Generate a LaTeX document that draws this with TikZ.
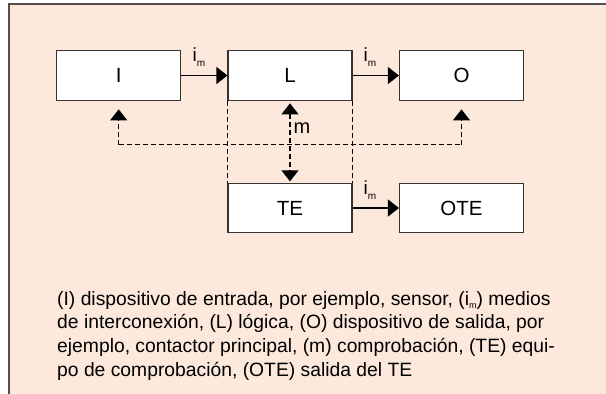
\documentclass[tikz,border=0pt]{standalone}
\usepackage{fontspec}
\setmainfont{Liberation Sans}
\usetikzlibrary{arrows.meta,calc}
\definecolor{peach}{RGB}{253,233,220}
\definecolor{framegray}{RGB}{80,80,80}
\definecolor{boxline}{RGB}{50,50,50}
\newcommand{\imlabel}{\fontsize{19}{19}\selectfont i\raisebox{-4.5pt}{\fontsize{10}{10}\selectfont m}}
\newcommand{\imtext}{i\raisebox{-3.5pt}{\fontsize{9}{9}\selectfont m}}
\tikzset{
  blockbox/.style={draw=boxline, fill=white, line width=1.1pt, minimum width=124pt, minimum height=49.6pt, inner sep=0pt, font=\fontsize{20.5}{20.5}\selectfont},
  flowarrow/.style={line width=1.1pt, -{Triangle[width=17pt,length=11pt]}},
  dashline/.style={line width=1.1pt, dash pattern=on 5pt off 3pt},
  dasharrow/.style={dashline, -{Triangle[width=17pt,length=11pt]}},
  dashboth/.style={dashline, {Triangle[width=17pt,length=11pt]}-{Triangle[width=17pt,length=11pt]}},
  lbl/.style={inner sep=0pt},
}
\begin{document}
\begin{tikzpicture}[x=1pt,y=-1pt]
\useasboundingbox (0,0) rectangle (606,394);
\fill[peach] (8.5,4) rectangle (606,394);
\draw[framegray, line width=2pt] (8.5,394) -- (8.5,4) -- (606,4);

\node[blockbox] (I) at (118.7,75.5) {I};
\node[blockbox] (L) at (290,75.5) {L};
\node[blockbox] (O) at (461.5,75.5) {O};
\node[blockbox] (TE) at (290,208) {TE};
\node[blockbox] (OTE) at (461.5,208) {OTE};

\draw[flowarrow] (I.east) -- (L.west);
\draw[flowarrow] (L.east) -- (O.west);
\draw[flowarrow] (TE.east) -- (OTE.west);
\node[lbl] (la) at (199,57) {\imlabel};
\node[lbl] (lb) at (370,57) {\imlabel};
\node[lbl] (lc) at (370,190) {\imlabel};

\coordinate (hl) at ($(I.south)+(0,44)$);
\coordinate (hr) at ($(O.south)+(0,44)$);
\draw[dashline] (hl) -- (hr);
\draw[dasharrow, shorten >=8.5pt] (hl) -- (I.south);
\draw[dasharrow, shorten >=8.5pt] (hr) -- (O.south);
\draw[dashboth, shorten <=2.5pt, shorten >=1.3pt] (L.south) -- (TE.north);
\draw[dashline] (L.south west) -- (TE.north west);
\draw[dashline] (L.south east) -- (TE.north east);
\node[lbl, font=\fontsize{20}{20}\selectfont] (m) at (302,128) {m};

\node[lbl, anchor=north west, align=left, font=\fontsize{19.3}{23.7}\selectfont] (cap) at (57,291)
{(I) dispositivo de entrada, por ejemplo, sensor, (\imtext) medios\\
de interconexión, (L) lógica, (O) dispositivo de salida, por\\
ejemplo, contactor principal, (m) comprobación, (TE) equi-\\
po de comprobación, (OTE) salida del TE};
\end{tikzpicture}
\end{document}
